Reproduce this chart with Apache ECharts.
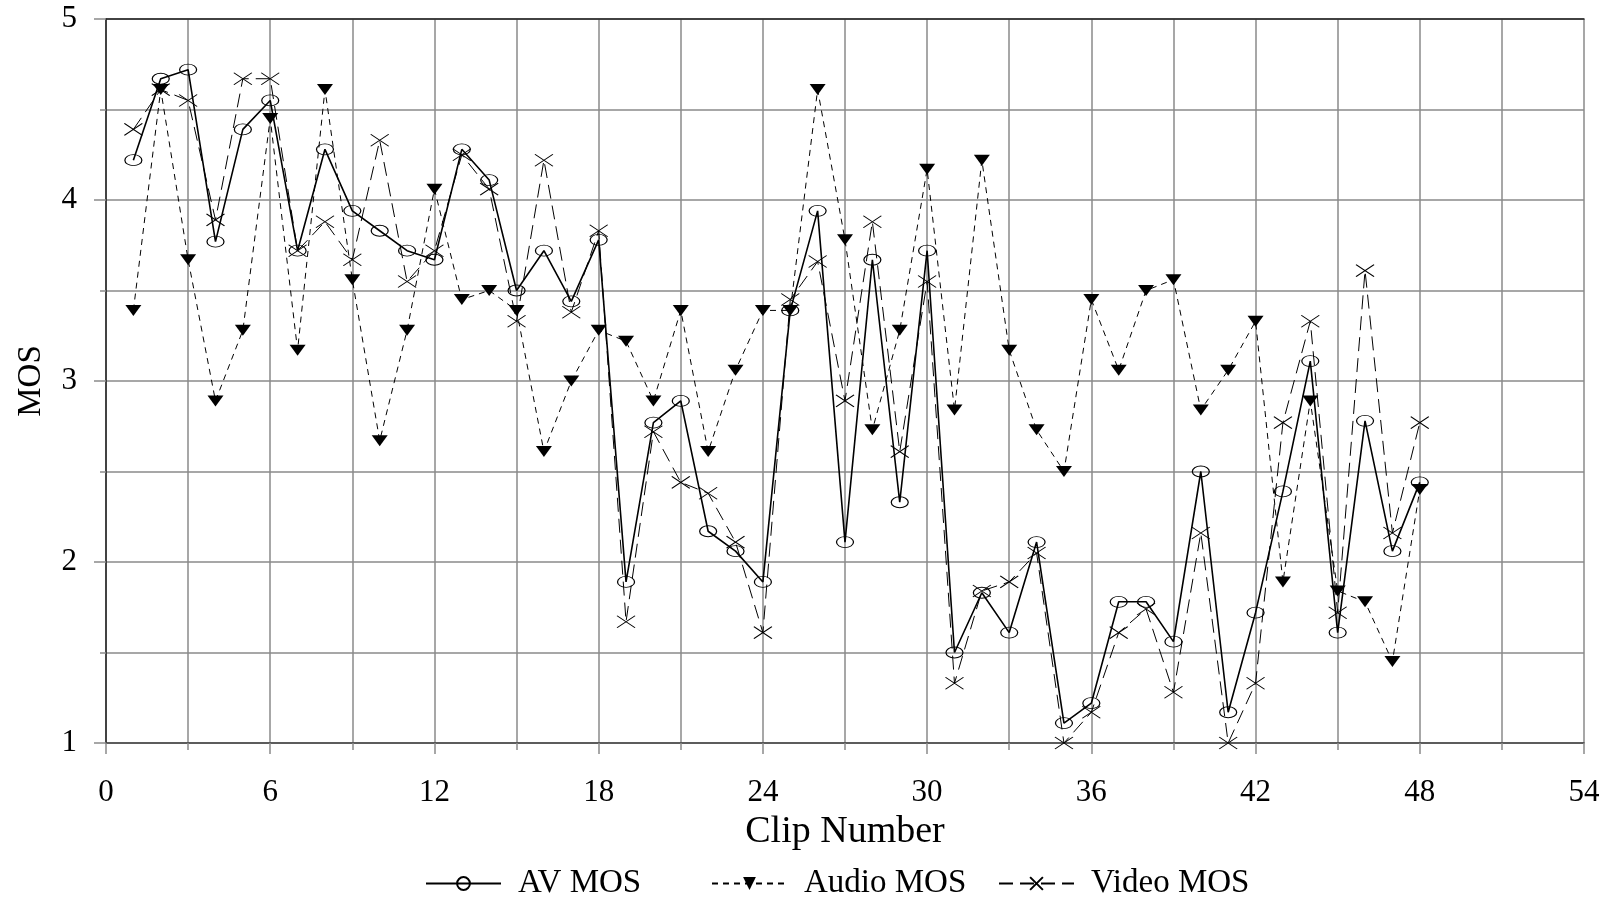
<!DOCTYPE html>
<html>
<head>
<meta charset="utf-8">
<script src="https://cdn.jsdelivr.net/npm/echarts@6/dist/echarts.min.js"></script>
<style>
html,body{margin:0;padding:0;background:#fff;}
#chart{width:1605px;height:898px;}
</style>
</head>
<body>
<div id="chart"></div>
<script>
var clips = [1,2,3,4,5,6,7,8,9,10,11,12,13,14,15,16,17,18,19,20,21,22,23,24,25,26,27,28,29,30,31,32,33,34,35,36,37,38,39,40,41,42,43,44,45,46,47,48];
var avMOS = [4.22,4.67,4.72,3.77,4.39,4.55,3.72,4.28,3.94,3.83,3.72,3.67,4.28,4.11,3.50,3.72,3.44,3.78,1.89,2.77,2.89,2.17,2.06,1.89,3.39,3.94,2.11,3.67,2.33,3.72,1.50,1.83,1.61,2.11,1.11,1.22,1.78,1.78,1.56,2.50,1.17,1.72,2.39,3.11,1.61,2.78,2.06,2.44];
var audioMOS = [3.39,4.61,3.67,2.89,3.28,4.45,3.17,4.61,3.56,2.67,3.28,4.06,3.45,3.50,3.39,2.61,3.00,3.28,3.22,2.89,3.39,2.61,3.06,3.39,3.39,4.61,3.78,2.73,3.28,4.17,2.84,4.22,3.17,2.73,2.50,3.45,3.06,3.50,3.56,2.84,3.06,3.33,1.89,2.89,1.84,1.78,1.45,2.40];
var videoMOS = [4.39,4.61,4.55,3.89,4.67,4.67,3.72,3.88,3.67,4.33,3.55,3.72,4.25,4.06,3.33,4.22,3.38,3.83,1.67,2.72,2.44,2.38,2.11,1.61,3.45,3.66,2.89,3.88,2.61,3.55,1.33,1.84,1.89,2.05,1.00,1.17,1.61,1.74,1.28,2.16,1.00,1.33,2.77,3.33,1.72,3.61,2.16,2.77];
var xTicks = [0,6,12,18,24,30,36,42,48,54];
var yTicks = [1,2,3,4,5];
var seriesNames = ['AV MOS','Audio MOS','Video MOS'];

function pairs(vals){ return clips.map(function(c,i){ return [c, vals[i]]; }); }

var FONT = 'Liberation Serif, Times New Roman, serif';
var chart = echarts.init(document.getElementById('chart'), null, {renderer:'canvas'});
var gridColor = '#8a8a8a';

var legendLefts = [420, 706, 993];
var legends = seriesNames.map(function(n, i){
  return {
    left: legendLefts[i], top: 862,
    itemWidth: 75, itemHeight: 16,
    data: [n],
    textStyle: {fontFamily: FONT, fontSize: 33, color: '#000', padding: [0,0,0,12]}
  };
});

chart.setOption({
  animation: false,
  backgroundColor: '#fff',
  grid: {left: 106, right: 21, top: 19, bottom: 155},
  legend: legends,
  xAxis: [{
    type: 'value', min: 0, max: 54, interval: 6,
    name: 'Clip Number', nameLocation: 'middle', nameGap: 70,
    nameTextStyle: {fontFamily: FONT, fontSize: 38, color: '#000'},
    axisLine: {show: true, lineStyle: {color: '#444', width: 1.5}},
    axisTick: {show: true, length: 11, lineStyle: {color: gridColor, width: 1.5}},
    minorTick: {show: true, splitNumber: 2, length: 7, lineStyle: {color: gridColor, width: 1.5}},
    axisLabel: {fontFamily: FONT, fontSize: 31, color: '#000', margin: 34,
      formatter: function(v){ return xTicks.indexOf(v) >= 0 ? String(v) : ''; }},
    splitLine: {show: true, lineStyle: {color: gridColor, width: 1.5}},
    minorSplitLine: {show: true, lineStyle: {color: gridColor, width: 1.5}}
  },{
    type: 'value', min: 0, max: 54, position: 'top',
    axisLine: {show: true, lineStyle: {color: '#222', width: 1.5}},
    axisTick: {show: false}, axisLabel: {show: false}, splitLine: {show: false}
  }],
  yAxis: {
    type: 'value', min: 1, max: 5, interval: 1,
    name: 'MOS', nameLocation: 'middle', nameGap: 58,
    nameTextStyle: {fontFamily: FONT, fontSize: 33, color: '#000'},
    axisLine: {show: true, lineStyle: {color: '#222', width: 1.5}},
    axisTick: {show: true, length: 12, lineStyle: {color: gridColor, width: 1.5}},
    minorTick: {show: true, splitNumber: 2, length: 6, lineStyle: {color: gridColor, width: 1.5}},
    axisLabel: {fontFamily: FONT, fontSize: 31, color: '#000', margin: 29,
      formatter: function(v){ return yTicks.indexOf(v) >= 0 ? String(v) : ''; }},
    splitLine: {show: true, lineStyle: {color: gridColor, width: 1.5}},
    minorSplitLine: {show: true, lineStyle: {color: gridColor, width: 1.5}}
  },
  series: [{
    name: seriesNames[2], type: 'line', data: pairs(videoMOS),
    symbol: 'path://M0,0L10,7M10,0L0,7', symbolSize: [18, 12],
    itemStyle: {color: '#000', borderColor: '#000', borderWidth: 1},
    lineStyle: {color: '#000', width: 1, type: [14, 7]},
    z: 3
  },{
    name: seriesNames[1], type: 'line', data: pairs(audioMOS),
    symbol: 'path://M0,0L10,0L5,7Z', symbolSize: [16, 11],
    itemStyle: {color: '#000'},
    lineStyle: {color: '#000', width: 1, type: [6, 5]},
    z: 4
  },{
    name: seriesNames[0], type: 'line', data: pairs(avMOS),
    symbol: 'circle', symbolSize: [17, 11],
    itemStyle: {color: 'rgba(255,255,255,0)', borderColor: '#000', borderWidth: 1},
    lineStyle: {color: '#000', width: 1.6, type: 'solid'},
    z: 5
  }]
});
</script>
</body>
</html>
